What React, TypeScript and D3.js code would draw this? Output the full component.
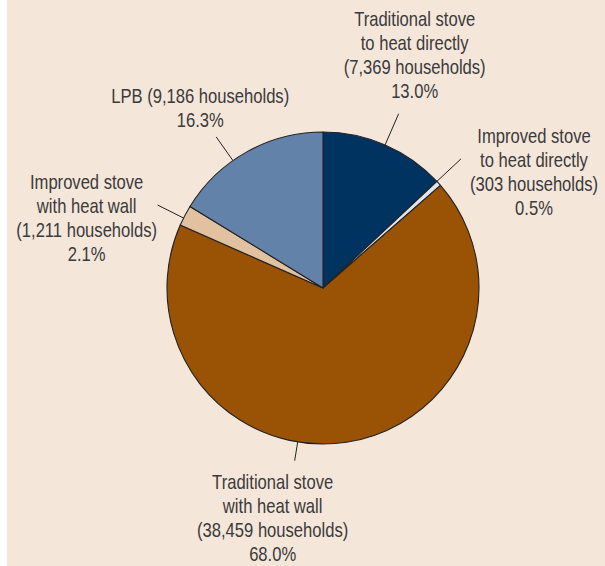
import React, { useRef, useEffect } from "react";
import * as d3 from "d3";

// data
const categories = [
  "Traditional stove to heat directly",
  "Improved stove to heat directly",
  "Traditional stove with heat wall",
  "Improved stove with heat wall",
  "LPB",
];
const households = [7369, 303, 38459, 1211, 9186];
const shares = ["13.0%", "0.5%", "68.0%", "2.1%", "16.3%"];
const labelLines = [
  ["Traditional stove", "to heat directly", "(7,369 households)", "13.0%"],
  ["Improved stove", "to heat directly", "(303 households)", "0.5%"],
  ["Traditional stove", "with heat wall", "(38,459 households)", "68.0%"],
  ["Improved stove", "with heat wall", "(1,211 households)", "2.1%"],
  ["LPB (9,186 households)", "16.3%"],
];
const colors = ["#00335f", "#dfe5ec", "#9a5204", "#e2c1a0", "#6282aa"];

// label layout: leader angle shift (deg), leader outer radius, text offset from leader end
const leaderShift = [0, -1, 18, -1, -6];
const leaderOuter = [190, 189, 175, 185, 185];
const textDx = [16, 73, -22, -71, -16];
const textDy = [-88, -16, 28, -16, -34];

const App = () => {
  const ref = useRef<SVGSVGElement>(null);

  useEffect(() => {
    const svg = d3.select(ref.current);
    svg.selectAll("*").remove();

    const width = 605;
    const height = 566;
    const cx = 323;
    const cy = 288;
    const radius = 156;

    svg
      .append("rect")
      .attr("x", 7)
      .attr("y", 0)
      .attr("width", width - 7)
      .attr("height", height)
      .attr("fill", "#f5e6da");

    const pie = d3
      .pie<number>()
      .sort(null)
      .value((d) => d);
    const arcs = pie(households);

    const arc = d3.arc<d3.PieArcDatum<number>>().innerRadius(0).outerRadius(radius);

    const g = svg.append("g").attr("transform", `translate(${cx},${cy})`);

    g.selectAll("path")
      .data(arcs)
      .join("path")
      .attr("d", arc)
      .attr("fill", (d, i) => colors[i])
      .attr("stroke", "#222")
      .attr("stroke-width", 1.1)
      .attr("stroke-linejoin", "round")
      .append("title")
      .text((d, i) => `${categories[i]}: ${shares[i]}`);

    const polar = (a: number, r: number) => [r * Math.sin(a), -r * Math.cos(a)];

    arcs.forEach((d, i) => {
      const a = (d.startAngle + d.endAngle) / 2 + (leaderShift[i] * Math.PI) / 180;
      const [x0, y0] = polar(a, radius);
      const [x1, y1] = polar(a, leaderOuter[i]);

      g.append("line")
        .attr("x1", x0)
        .attr("y1", y0)
        .attr("x2", x1)
        .attr("y2", y1)
        .attr("stroke", "#222")
        .attr("stroke-width", 1);

      // condensed look: squeeze the regular face horizontally
      const text = g
        .append("text")
        .attr("transform", `translate(${x1 + textDx[i]},${y1 + textDy[i]}) scale(0.83,1)`)
        .attr("text-anchor", "middle")
        .attr("font-family", "'Liberation Sans', Arial, sans-serif")
        .attr("font-size", 20)
        .attr("fill", "#3a3a3a");

      labelLines[i].forEach((line, k) => {
        text
          .append("tspan")
          .attr("x", 0)
          .attr("dy", k === 0 ? 0 : 24)
          .text(line);
      });
    });
  }, []);

  return (
    <svg
      ref={ref}
      width={605}
      height={566}
      style={{ position: "absolute", left: 0, top: 0, display: "block" }}
    ></svg>
  );
};

export default App;
